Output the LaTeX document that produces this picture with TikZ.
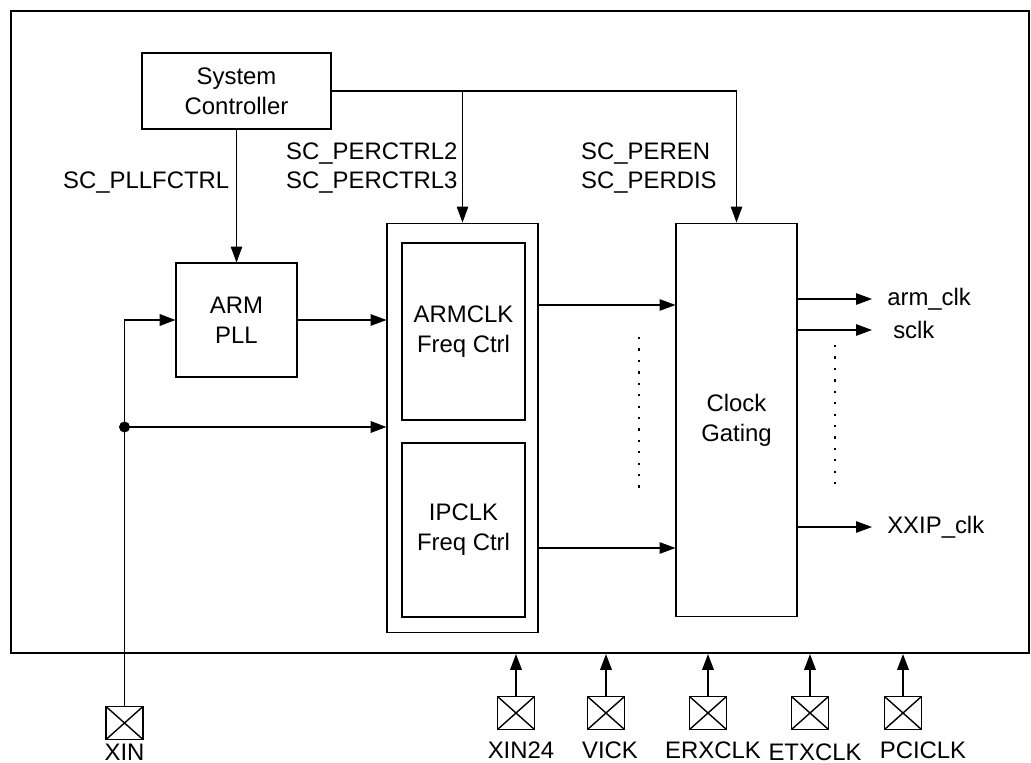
\documentclass[tikz,border=0pt]{standalone}
\usepackage{fontspec}
\setmainfont{Liberation Sans}
\usetikzlibrary{arrows.meta,positioning}

\begin{document}
\begin{tikzpicture}[x=0.02cm, y=-0.02cm,
    every node/.style={font=\fontsize{13.6}{17}\selectfont, align=center},
    blk/.style={draw, line width=0.6pt, inner sep=0pt},
    sig/.style={-{Triangle[length=9pt,width=6.5pt]}, line width=0.6pt},
    padsig/.style={-{Triangle[length=9pt,width=6.5pt]}, line width=1.1pt},
    pad/.style={draw, line width=1.1pt, minimum width=0.74cm, minimum height=0.66cm, inner sep=0pt,
      path picture={\draw[line width=0.8pt] (path picture bounding box.north west) -- (path picture bounding box.south east)
        (path picture bounding box.south west) -- (path picture bounding box.north east);}},
    dotline/.style={line width=1.3pt, dash pattern=on 1.3pt off 5.2pt}]
    \useasboundingbox (0,0) rectangle (1031,763);
    % chip outline and blocks
    \node[draw, line width=1.2pt, minimum width=20.36cm, minimum height=12.84cm] (chip) at (520,332) {};
    \node[blk, minimum width=3.78cm, minimum height=1.52cm] (sysctrl) at (236.5,91) {System\\Controller};
    \node[blk, minimum width=2.42cm, minimum height=2.28cm] (armpll) at (236.5,320) {ARM\\PLL};
    \node[blk, minimum width=3.02cm, minimum height=8.2cm] (freqbox) at (462.5,428) {};
    \node[blk, minimum width=2.46cm, minimum height=3.54cm] (armfreq) at (463.5,331.5) {ARMCLK\\Freq Ctrl};
    \node[blk, minimum width=2.46cm, minimum height=3.48cm] (ipfreq) at (463.5,530) {IPCLK\\Freq Ctrl};
    \node[blk, minimum width=2.42cm, minimum height=7.88cm] (gating) at (736.5,420) {Clock\\Gating};
    % register labels
    \node[anchor=west, align=left] (pllfctrl) at (57,183) {SC\_PLLFCTRL};
    \node[anchor=west, align=left] (perctrl) at (280,168) {SC\_PERCTRL2\\SC\_PERCTRL3};
    \node[anchor=west, align=left] (peren) at (575,168) {SC\_PEREN\\SC\_PERDIS};
    \draw[sig] (sysctrl.south) -- (armpll.north);
    \draw[sig] (sysctrl.east) -| (gating.north);
    \draw[sig] (sysctrl.east -| freqbox.north) -- (freqbox.north);
    \draw[sig] (armpll.east) -- (armpll.east -| freqbox.west);
    \draw[sig] (freqbox.east |- 0,305) -- (gating.west |- 0,305);
    \draw[sig] (freqbox.east |- 0,548) -- (gating.west |- 0,548);
    \draw[dotline] (639,337) -- (639,488);
    % outputs
    \node[anchor=west, inner xsep=8.5pt] (armclk) at (872,299) {arm\_clk};
    \node[anchor=west, inner xsep=11.9pt] (sclk) at (872,330) {sclk};
    \node[anchor=west, inner xsep=8.5pt] (xxipclk) at (872,527) {XXIP\_clk};
    \draw[sig] (gating.east |- armclk) -- (armclk.west);
    \draw[sig] (gating.east |- sclk) -- (sclk.west);
    \draw[sig] (gating.east |- xxipclk) -- (xxipclk.west);
    \draw[dotline] (835,345) -- (835,485);
    % XIN input
    \node[pad] (xin) at (124.5,723) {};
    \node[inner sep=1pt] (xinlbl) at (124.5,752) {XIN};
    \coordinate (jn) at (xin.north |- 0,427);
    \draw[padsig] (xin.north) |- (armpll.west);
    \draw[padsig] (jn) -- (jn -| freqbox.west);
    \fill (jn) circle[radius=0.11cm];
    % clock pads
    \foreach \px/\lx/\ly/\nm/\txt in {516/521/750/xin24/XIN24, 606/610/750/vick/VICK, 708/713/750/erx/ERXCLK,
        810/815/752/etx/ETXCLK, 903/923/750/pci/PCICLK} {
      \node[pad] (\nm) at (\px,713) {};
      \node[inner sep=1pt] (\nm lbl) at (\lx,\ly) {\txt};
      \draw[padsig] (\nm.north) -- (\nm.north |- chip.south);
    }
\end{tikzpicture}
\end{document}
